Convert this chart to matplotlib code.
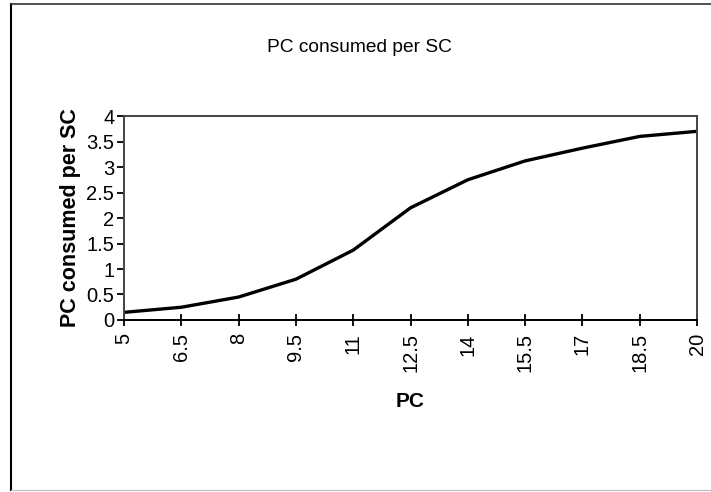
import matplotlib
matplotlib.use("Agg")
import matplotlib.pyplot as plt
from matplotlib.lines import Line2D

# data
pc = [5, 6.5, 8, 9.5, 11, 12.5, 14, 15.5, 17, 18.5, 20]
consumed = [0.15, 0.25, 0.45, 0.8, 1.37, 2.2, 2.75, 3.12, 3.37, 3.6, 3.7]
y_ticks = [0, 0.5, 1, 1.5, 2, 2.5, 3, 3.5, 4]
y_labels = ['0', '0.5', '1', '1.5', '2', '2.5', '3', '3.5', '4']

plt.rcParams['font.family'] = ['Liberation Sans', 'DejaVu Sans']

fig = plt.figure(figsize=(7.11, 4.92), dpi=100)
ax = fig.add_axes([0.1744, 0.3496, 0.806, 0.4146])

ax.plot(pc, consumed, color='black', linewidth=2.4)

ax.set_xlim(5, 20)
ax.set_ylim(0, 4)
ax.set_xticks(pc)
ax.set_xticklabels([('%g' % v) for v in pc], rotation=90, fontsize=14.5)
ax.set_yticks(y_ticks)
ax.set_yticklabels(y_labels, fontsize=14.5)
ax.tick_params(axis='x', direction='inout', length=9, width=1.3, pad=5)
ax.tick_params(axis='y', direction='out', length=5, width=1.3, pad=2)

for s in ax.spines.values():
    s.set_color('#444444')
    s.set_linewidth(1.4)
ax.spines['bottom'].set_color('black')

ax.set_xlabel('PC', fontsize=15, fontweight='bold', labelpad=14)
ax.set_ylabel('PC consumed per SC', fontsize=15.5, fontweight='bold', labelpad=4)
fig.text(0.505, 0.903, 'PC consumed per SC', ha='center', va='center', fontsize=13.8)

# outer chart frame
fig.add_artist(Line2D([0.016, 0.016], [0.005, 0.992], color='black', lw=1.5, transform=fig.transFigure))
fig.add_artist(Line2D([0.016, 1.0], [0.992, 0.992], color='#333333', lw=1.2, transform=fig.transFigure))
fig.add_artist(Line2D([0.016, 1.0], [0.005, 0.005], color='#bbbbbb', lw=0.8, transform=fig.transFigure))

fig.savefig('out.png', dpi=100)
